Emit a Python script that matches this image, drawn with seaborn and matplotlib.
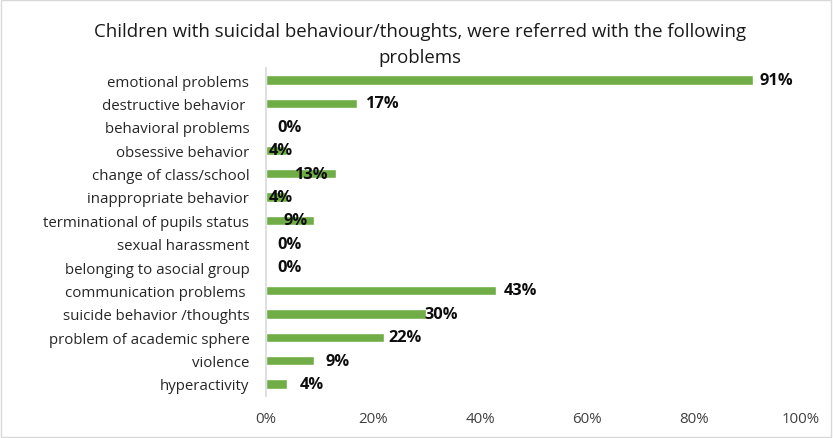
import matplotlib
matplotlib.use("Agg")
import matplotlib.pyplot as plt
from matplotlib.ticker import PercentFormatter
import seaborn as sns
import pandas as pd

categories = [
    "emotional problems",
    "destructive behavior ",
    "behavioral problems",
    "obsessive behavior",
    "change of class/school",
    "inappropriate behavior",
    "terminational of pupils status",
    "sexual harassment",
    "belonging to asocial group",
    "communication problems ",
    "suicide behavior /thoughts",
    "problem of academic sphere",
    "violence",
    "hyperactivity",
]
values = [91, 17, 0, 4, 13, 4, 9, 0, 0, 43, 30, 22, 9, 4]
value_labels = ["91%", "17%", "0%", "4%", "13%", "4%", "9%", "0%", "0%",
                "43%", "30%", "22%", "9%", "4%"]
x_ticks = [0, 20, 40, 60, 80, 100]

# horizontal offset (pixels) of each value label from its bar end
label_shift = [7, 9, 11, -19, -41, -19, -31, 11, 11, 8, -2, 5, 11, 12]

sns.set_theme(style="white")
plt.rcParams["font.family"] = ["Open Sans", "DejaVu Sans"]

df = pd.DataFrame({"category": categories, "value": values})

fig = plt.figure(figsize=(8.33, 4.39), dpi=100)
ax = fig.add_axes([0.3193, 0.0964, 0.6423, 0.7456])

sns.barplot(data=df, x="value", y="category", color="#70AD47",
            saturation=1, width=0.4, ax=ax, orient="h")

ax.set_xlim(0, 100)
ax.set_xticks(x_ticks)
ax.xaxis.set_major_formatter(PercentFormatter(decimals=0))
ax.set_xlabel("")
ax.set_ylabel("")
ax.tick_params(axis="x", length=0, pad=11, labelsize=10.8, labelcolor="#404040")
ax.tick_params(axis="y", length=0, pad=12, labelsize=10.8, labelcolor="#262626")

for side in ["top", "right", "bottom"]:
    ax.spines[side].set_visible(False)
ax.spines["left"].set_color("#d9d9d9")
ax.spines["left"].set_linewidth(1.2)

for i, (v, txt, dx) in enumerate(zip(values, value_labels, label_shift)):
    ax.annotate(txt, xy=(v, i), xytext=(dx * 0.72, 0), textcoords="offset points",
                ha="left", va="center", fontsize=11.8, fontweight="bold",
                color="#0d0d0d")

fig.text(0.504, 0.927, "Children with suicidal behaviour/thoughts, were referred with the following",
         ha="center", va="center", fontsize=13.4, color="#1a1a1a")
fig.text(0.504, 0.868, "problems", ha="center", va="center", fontsize=13.4, color="#1a1a1a")

border = plt.Rectangle((0.001, 0.002), 0.997, 0.995, transform=fig.transFigure,
                       fill=False, edgecolor="#d9d9d9", linewidth=1)
fig.patches.append(border)

fig.savefig("out.png", dpi=100)
